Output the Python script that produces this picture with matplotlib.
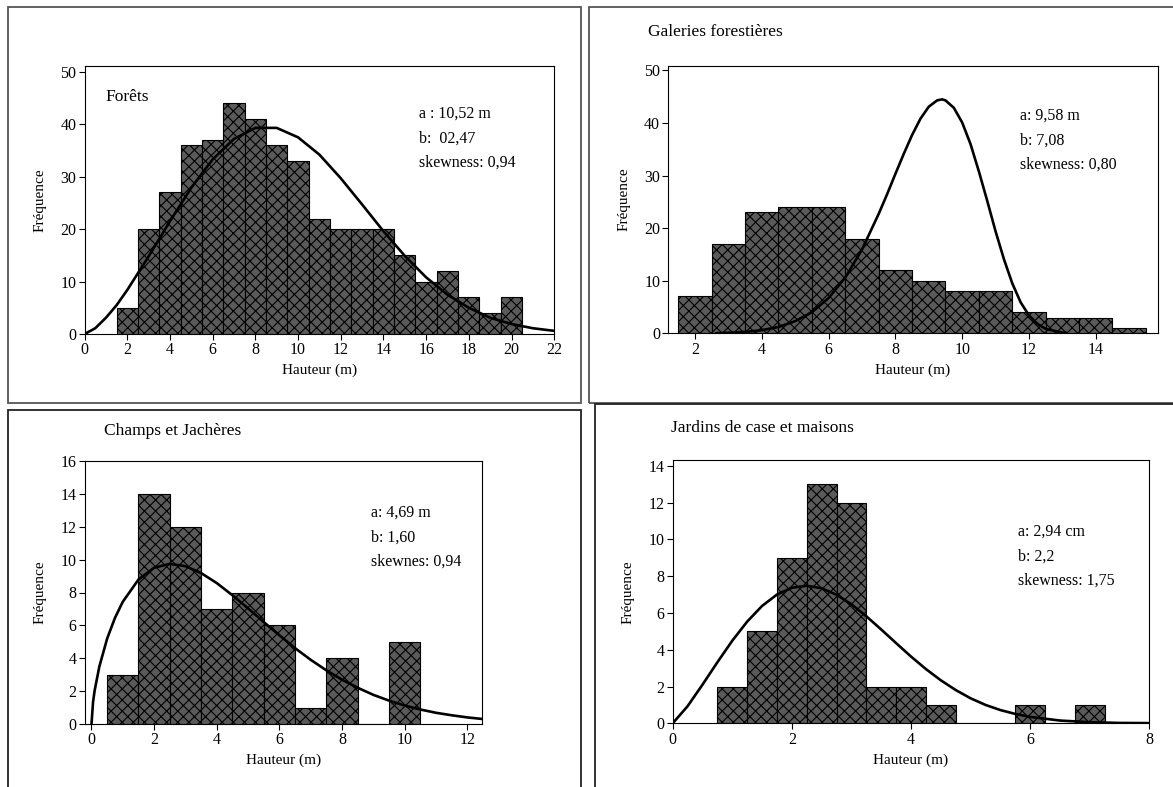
import matplotlib
matplotlib.use('Agg')
import matplotlib.pyplot as plt
from matplotlib.patches import Rectangle

# histogram classes (centres, m) and counts
forets_x = [2, 3, 4, 5, 6, 7, 8, 9, 10, 11, 12, 13, 14, 15, 16, 17, 18, 19, 20]
forets_n = [5, 20, 27, 36, 37, 44, 41, 36, 33, 22, 20, 20, 20, 15, 10, 12, 7, 4, 7]

galeries_x = [2, 3, 4, 5, 6, 7, 8, 9, 10, 11, 12, 13, 14, 15]
galeries_n = [7, 17, 23, 24, 24, 18, 12, 10, 8, 8, 4, 3, 3, 1]

champs_x = [1, 2, 3, 4, 5, 6, 7, 8, 9, 10]
champs_n = [3, 14, 12, 7, 8, 6, 1, 4, 0, 5]

jardins_x = [1.0, 1.5, 2.0, 2.5, 3.0, 3.5, 4.0, 4.5, 5.0, 5.5, 6.0, 6.5, 7.0]
jardins_n = [2, 5, 9, 13, 12, 2, 2, 1, 0, 0, 1, 0, 1]

# fitted curves
forets_cx = [0, 0.5, 1, 1.5, 2, 3, 4, 5, 6, 7, 8, 9, 10, 11, 12, 13, 14, 15, 16,
             17, 18, 19, 20, 21, 22]
forets_cy = [0, 1.1, 3.1, 5.5, 8.4, 14.8, 21.5, 27.9, 33.3, 37.2, 39.3, 39.3, 37.5,
             34.2, 29.7, 24.7, 19.6, 14.9, 10.8, 7.5, 5.0, 3.1, 1.9, 1.1, 0.6]

galeries_cx = [2.65, 3, 3.5, 4, 4.5, 5, 5.5, 6, 6.5, 7, 7.5, 7.75, 8, 8.25, 8.5,
               8.75, 9, 9.25, 9.4, 9.5, 9.75, 10, 10.25, 10.5, 10.75, 11, 11.25,
               11.5, 11.75, 12, 12.25, 12.5, 13, 13.1]
galeries_cy = [0, 0.1, 0.26, 0.59, 1.2, 2.3, 4.0, 6.7, 10.6, 15.9, 22.7, 26.4,
               30.3, 34.1, 37.7, 40.8, 43.1, 44.3, 44.5, 44.3, 42.9, 40.1, 36.0,
               30.8, 25.2, 19.4, 14.1, 9.5, 5.9, 3.4, 1.8, 0.84, 0.13, 0.1]

champs_cx = [0, 0.05, 0.1, 0.25, 0.5, 0.75, 1, 1.5, 2, 2.5, 3, 3.5, 4, 4.5, 5, 5.5,
             6, 6.5, 7, 7.5, 8, 8.5, 9, 9.5, 10, 10.5, 11, 11.5, 12, 12.5]
champs_cy = [0, 1.34, 2.03, 3.49, 5.2, 6.46, 7.44, 8.79, 9.51, 9.74, 9.6, 9.18,
             8.57, 7.83, 7.03, 6.2, 5.39, 4.61, 3.9, 3.26, 2.69, 2.2, 1.77, 1.42,
             1.12, 0.88, 0.68, 0.53, 0.4, 0.3]

jardins_cx = [0, 0.25, 0.5, 0.75, 1, 1.25, 1.5, 1.75, 2, 2.25, 2.5, 2.75, 3, 3.25,
              3.5, 3.75, 4, 4.25, 4.5, 4.75, 5, 5.25, 5.5, 5.75, 6, 6.5, 7, 7.5, 8]
jardins_cy = [0, 0.93, 2.1, 3.32, 4.49, 5.53, 6.38, 7.0, 7.37, 7.48, 7.34, 6.99,
              6.47, 5.82, 5.1, 4.36, 3.63, 2.95, 2.34, 1.81, 1.36, 1.0, 0.72, 0.51,
              0.35, 0.15, 0.06, 0.02, 0.01]

plt.rcParams['font.family'] = ['Liberation Serif', 'DejaVu Serif']
plt.rcParams['hatch.linewidth'] = 0.8

W, H = 1173, 787
fig = plt.figure(figsize=(W / 100, H / 100), dpi=100)


def px(x, y):
    return x / W, 1 - y / H


def frame(x0, y0, x1, y1, col):
    fx0, fy1 = px(x0, y1)
    fig.add_artist(Rectangle((fx0, fy1), (x1 - x0) / W, (y1 - y0) / H,
                             transform=fig.transFigure, fill=False,
                             edgecolor=col, linewidth=1.3, clip_on=False))


def panel(box, xs, ns, width, cx, cy, xlim, ylim, xticks, yticks,
          title, tpos, notes, npos):
    l, t, r, b = box
    ax = fig.add_axes([l / W, 1 - b / H, (r - l) / W, (b - t) / H])
    ax.bar(xs, ns, width=width, color='#5a5a5a', edgecolor='black',
           hatch='xxx', linewidth=0.8, zorder=2)
    ax.plot(cx, cy, color='black', linewidth=1.9, zorder=3)
    ax.set_xlim(xlim)
    ax.set_ylim(ylim)
    ax.set_xticks(xticks)
    ax.set_yticks(yticks)
    ax.tick_params(direction='out', length=4, width=0.8, pad=2, labelsize=11.5)
    for s in ax.spines.values():
        s.set_linewidth(0.8)
    ax.set_xlabel('Hauteur (m)', fontsize=11, labelpad=4)
    ax.set_ylabel('Fréquence', fontsize=11, labelpad=10)
    fx, fy = px(*tpos)
    fig.text(fx, fy, title, fontsize=12.5, va='center', ha='left')
    for i, line in enumerate(notes):
        fx, fy = px(npos[0], npos[1] + i * 24.5)
        fig.text(fx, fy, line, fontsize=11.5, va='center', ha='left')
    return ax


frame(8.3, 7.3, 580.7, 402.7, '#555555')
frame(589.3, 7.3, 1190, 402.7, '#555555')
frame(8.3, 409.7, 580.7, 800, '#222222')
frame(595.3, 404.3, 1190, 800, '#222222')

panel((84.6, 66, 554.2, 334), forets_x, forets_n, 1.0, forets_cx, forets_cy,
      (0, 22), (0, 51.1), range(0, 23, 2), range(0, 51, 10),
      'Forêts', (105, 97), ['a : 10,52 m', 'b:  02,47', 'skewness: 0,94'], (419, 114))

panel((668.5, 65.7, 1157.6, 333.3), galeries_x, galeries_n, 1.0, galeries_cx, galeries_cy,
      (1.21, 15.85), (0, 50.9), range(2, 15, 2), range(0, 51, 10),
      'Galeries forestières', (648, 32), ['a: 9,58 m', 'b: 7,08', 'skewness: 0,80'], (1019.5, 116))

panel((84.6, 461, 481.6, 724), champs_x, champs_n, 1.0, champs_cx, champs_cy,
      (-0.22, 12.45), (0, 16), range(0, 13, 2), range(0, 17, 2),
      'Champs et Jachères', (103.5, 430.7), ['a: 4,69 m', 'b: 1,60', 'skewnes: 0,94'], (370.6, 513))

panel((672.7, 460.3, 1149.3, 723.3), jardins_x, jardins_n, 0.5, jardins_cx, jardins_cy,
      (0, 8), (0, 14.3), range(0, 9, 2), range(0, 15, 2),
      'Jardins de case et maisons', (670.8, 428.3), ['a: 2,94 cm', 'b: 2,2', 'skewness: 1,75'], (1018.4, 531.7))

fig.savefig('out.png', dpi=100)
